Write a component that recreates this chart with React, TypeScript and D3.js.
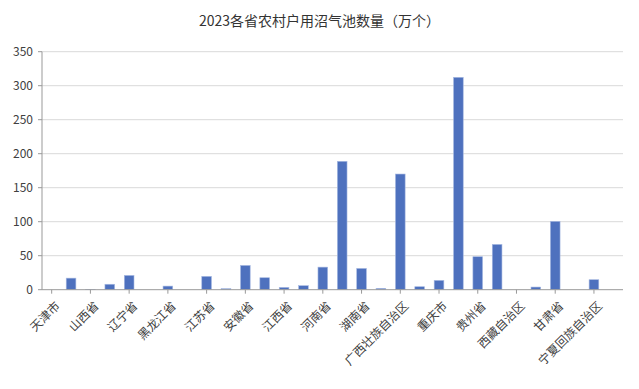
import * as d3 from "d3";
import { useEffect } from "react";

const provinces = [
  "天津市", "河北省", "山西省", "内蒙古自治区", "辽宁省", "吉林省", "黑龙江省", "上海市",
  "江苏省", "浙江省", "安徽省", "福建省", "江西省", "山东省", "河南省", "湖北省",
  "湖南省", "广东省", "广西壮族自治区", "海南省", "重庆市", "四川省", "贵州省", "云南省",
  "西藏自治区", "陕西省", "甘肃省", "青海省", "宁夏回族自治区", "新疆维吾尔自治区",
];
// 万个
const biogasPools = [
  0, 17, 0.5, 8, 21, 0, 5.3, 0,
  19.6, 1.5, 35.7, 17.6, 3.4, 5.9, 33.2, 188.8,
  31.3, 2, 170.1, 4.4, 13.7, 312.3, 48.5, 66.6,
  0, 3.9, 100.5, 0, 14.7, 0,
];
const yTicks = [0, 50, 100, 150, 200, 250, 300, 350];
const title = "2023各省农村户用沼气池数量（万个）";

const W = 639;
const H = 389;
const left = 42;
const right = 623;
const bottom = 289.7;
const top = 51.7;
const font = "'Noto Sans CJK SC', 'Noto Sans', sans-serif";

export default function App() {
  useEffect(() => {
    document.body.style.margin = "0";
  }, []);

  const x = d3.scaleBand<string>()
    .domain(provinces)
    .range([left, right])
    .paddingInner(0.5)
    .paddingOuter(0.25);
  const y = d3.scaleLinear().domain([0, 350]).range([bottom, top]);

  // only every other category gets a label and a tick
  const labelled = provinces.filter((_, i) => i % 2 === 0);
  const cx = (p: string) => (x(p) ?? 0) + x.bandwidth() / 2;

  return (
    <svg width={W} height={H} style={{ display: "block", background: "#fff" }} fontFamily={font}>
      <text x={W / 2} y={26} textAnchor="middle" fontSize={14} fill="#333">{title}</text>

      {yTicks.map((t) => (
        <g key={t}>
          {t > 0 && <line x1={left} x2={right} y1={y(t)} y2={y(t)} stroke="#d9d9d9" strokeWidth={1} />}
          <line x1={left - 4} x2={left} y1={y(t)} y2={y(t)} stroke="#999" />
          <text x={33} y={y(t)} dy="0.35em" textAnchor="end" fontSize={12} fill="#404040">{t}</text>
        </g>
      ))}
      <line x1={left} x2={left} y1={top} y2={bottom} stroke="#999" />

      {provinces.map((p, i) => (
        <rect
          key={p}
          x={x(p)}
          y={y(biogasPools[i])}
          width={x.bandwidth()}
          height={bottom - y(biogasPools[i])}
          fill="#4e71be"
          stroke="#a7b9e2"
          strokeWidth={0.6}
        />
      ))}

      <line x1={left} x2={right} y1={bottom} y2={bottom} stroke="#999" />
      {labelled.map((p) => (
        <g key={p}>
          <line x1={cx(p)} x2={cx(p)} y1={bottom} y2={bottom + 4} stroke="#999" />
          <text
            transform={`translate(${cx(p) + 6},${bottom + 14}) rotate(-45)`}
            textAnchor="end"
            dy="0.35em"
            fontSize={12}
            fill="#404040"
          >
            {p}
          </text>
        </g>
      ))}
    </svg>
  );
}
